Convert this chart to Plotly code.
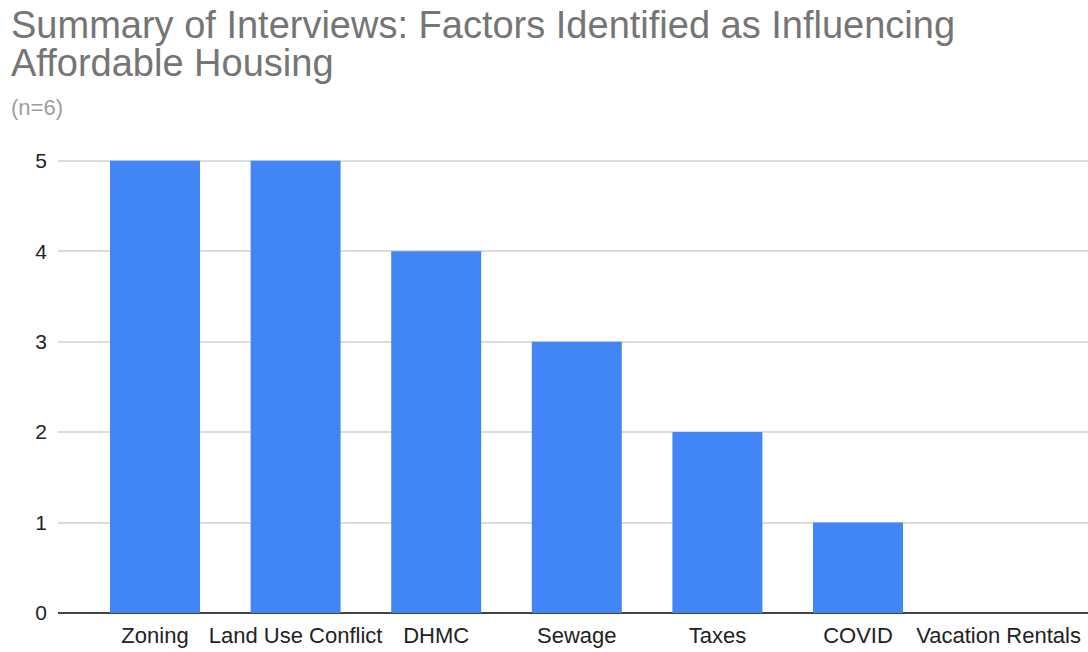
import plotly.graph_objects as go

# Interview summary: how many of the six interviewees named each factor
factors = ["Zoning", "Land Use Conflict", "DHMC", "Sewage", "Taxes", "COVID", "Vacation Rentals"]
mentions = [5, 5, 4, 3, 2, 1, 0]
y_ticks = [0, 1, 2, 3, 4, 5]

title_line1 = "Summary of Interviews: Factors Identified as Influencing"
title_line2 = "Affordable Housing"
subtitle = "(n=6)"

W, H = 1088, 652
M_L, M_R, M_T, M_B = 58, 0, 159, 39
plot_h = H - M_T - M_B


def paper_y(py):
    """Convert a pixel row (from the top of the page) to paper coordinates."""
    return (H - M_B - py) / plot_h


FONT = "Liberation Sans, Arial, Helvetica, sans-serif"

fig = go.Figure(
    go.Bar(
        x=factors,
        y=mentions,
        marker=dict(color="#4285F4", line=dict(width=0)),
        hoverinfo="x+y",
    )
)

fig.update_layout(
    width=W,
    height=H,
    margin=dict(l=M_L, r=M_R, t=M_T, b=M_B),
    paper_bgcolor="white",
    plot_bgcolor="white",
    bargap=0.36,
    showlegend=False,
    font=dict(family=FONT),
    xaxis=dict(
        type="category",
        range=[-0.69, 6.636],
        showgrid=False,
        showline=False,
        zeroline=False,
        ticks="",
        tickfont=dict(size=22, color="#222222", family=FONT),
        ticklabelstandoff=7,
    ),
    yaxis=dict(
        range=[0, 5.02],
        tickvals=y_ticks,
        showgrid=True,
        gridcolor="#dcdcdc",
        gridwidth=1.5,
        zeroline=True,
        zerolinecolor="#444444",
        zerolinewidth=1.5,
        showline=False,
        ticks="",
        tickfont=dict(size=21, color="#222222", family=FONT),
        ticklabelstandoff=10,
    ),
    annotations=[
        dict(
            text=title_line1, xref="paper", yref="paper",
            x=0, y=paper_y(25), xshift=-49, xanchor="left", yanchor="middle",
            showarrow=False, font=dict(size=38, color="#757575", family=FONT),
        ),
        dict(
            text=title_line2, xref="paper", yref="paper",
            x=0, y=paper_y(63), xshift=-49, xanchor="left", yanchor="middle",
            showarrow=False, font=dict(size=38, color="#757575", family=FONT),
        ),
        dict(
            text=subtitle, xref="paper", yref="paper",
            x=0, y=paper_y(108), xshift=-49, xanchor="left", yanchor="middle",
            showarrow=False, font=dict(size=22, color="#9e9e9e", family=FONT),
        ),
    ],
)

fig.write_html("out.html")
